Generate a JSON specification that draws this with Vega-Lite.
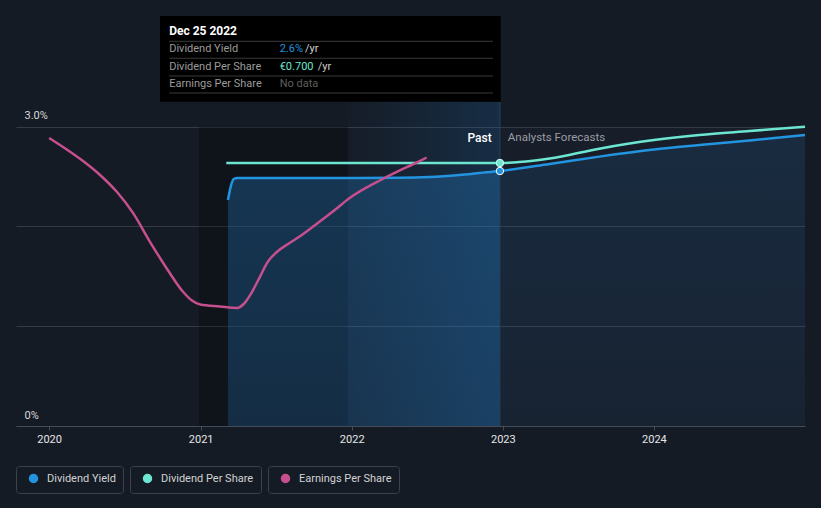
{
  "$schema": "https://vega.github.io/schema/vega-lite/v6.json",
  "width": 789,
  "height": 426,
  "autosize": {"type": "none"},
  "padding": {"left": 16, "top": 0, "right": 16, "bottom": 82},
  "background": "#151b25",
  "config": {
    "view": {"stroke": null},
    "font": "Roboto",
    "text": {"font": "Roboto"}
  },
  "resolve": {"scale": {"color": "independent"}},
  "layer": [
    {
      "data": {"values": [{"date": "2020-12-28", "end": "2021-12-23"}]},
      "mark": {"type": "rect", "fill": "#000000", "opacity": 0.28},
      "encoding": {
        "x": {
          "field": "date", "type": "temporal",
          "scale": {"domain": [{"year": 2019, "month": 10, "date": 13}, {"year": 2024, "month": 12, "date": 31}]},
          "axis": {
            "title": null, "grid": false, "format": "%Y",
            "values": [{"year": 2020}, {"year": 2021}, {"year": 2022}, {"year": 2023}, {"year": 2024}],
            "domainColor": "#464c57", "tickColor": "#464c57", "tickSize": 4,
            "labelColor": "#e6e6e6", "labelFont": "Roboto", "labelFontSize": 11, "labelPadding": 3,
            "labelFlush": false
          }
        },
        "x2": {"field": "end"},
        "y": {
          "datum": 0, "type": "quantitative",
          "scale": {"domain": [0, 4.27], "nice": false, "zero": true},
          "axis": {
            "title": null, "grid": true, "gridColor": "#353b46", "domain": false, "ticks": false, "tickSize": 0,
            "values": [0, 1, 2, 3],
            "labelExpr": "datum.value == 3 ? '3.0%' : (datum.value == 0 ? '0%' : '')",
            "labelAlign": "left", "labelBaseline": "bottom", "labelPadding": -8, "labelOffset": -6,
            "labelColor": "#d8d8d8", "labelFont": "Roboto", "labelFontSize": 11, "labelOverlap": false
          }
        },
        "y2": {"datum": 3}
      }
    },
    {
      "data": {"values": [{"date": "2022-12-25", "end": "2024-12-31"}]},
      "mark": {"type": "rect", "fill": "#283750", "opacity": 0.12},
      "encoding": {
        "x": {"field": "date", "type": "temporal"},
        "x2": {"field": "end"},
        "y": {"datum": 0, "type": "quantitative"},
        "y2": {"datum": 3}
      }
    },
    {
      "data": {"values": [{"date": "2021-12-23", "end": "2022-12-25"}]},
      "mark": {
        "type": "rect",
        "fill": {"gradient": "linear", "x1": 0, "y1": 0, "x2": 1, "y2": 0,
          "stops": [{"offset": 0, "color": "rgba(30,110,180,0.02)"}, {"offset": 1, "color": "rgba(30,110,180,0.22)"}]}
      },
      "encoding": {
        "x": {"field": "date", "type": "temporal"},
        "x2": {"field": "end"},
        "y": {"datum": 0, "type": "quantitative"},
        "y2": {"datum": 3.25}
      }
    },
    {
      "data": {"name": "yield", "values": [
        {"date": "2021-03-08", "value": 2.265, "part": "past"},
        {"date": "2021-03-15", "value": 2.405, "part": "past"},
        {"date": "2021-03-22", "value": 2.476, "part": "past"},
        {"date": "2021-03-30", "value": 2.486, "part": "past"},
        {"date": "2021-08-28", "value": 2.486, "part": "past"},
        {"date": "2022-04-27", "value": 2.488, "part": "past"},
        {"date": "2022-07-08", "value": 2.495, "part": "past"},
        {"date": "2022-09-18", "value": 2.516, "part": "past"},
        {"date": "2022-11-06", "value": 2.536, "part": "past"},
        {"date": "2022-12-25", "value": 2.556, "part": "both"},
        {"date": "2023-04-24", "value": 2.626, "part": "forecast"},
        {"date": "2023-08-22", "value": 2.7, "part": "forecast"},
        {"date": "2024-01-01", "value": 2.771, "part": "forecast"},
        {"date": "2024-04-20", "value": 2.816, "part": "forecast"},
        {"date": "2024-08-19", "value": 2.862, "part": "forecast"},
        {"date": "2024-12-31", "value": 2.917, "part": "forecast"}
      ]},
      "transform": [{"filter": "datum.part != 'forecast'"}],
      "mark": {
        "type": "area", "interpolate": "monotone",
        "fill": {"gradient": "linear", "x1": 0, "y1": 0, "x2": 0, "y2": 1,
          "stops": [{"offset": 0, "color": "rgba(35,120,190,0.34)"}, {"offset": 1, "color": "rgba(35,120,190,0.26)"}]}
      },
      "encoding": {
        "x": {"field": "date", "type": "temporal"},
        "y": {"field": "value", "type": "quantitative"}
      }
    },
    {
      "data": {"name": "yield"},
      "transform": [{"filter": "datum.part != 'past'"}],
      "mark": {
        "type": "area", "interpolate": "monotone",
        "fill": {"gradient": "linear", "x1": 0, "y1": 0, "x2": 0, "y2": 1,
          "stops": [{"offset": 0, "color": "rgba(35,120,190,0.15)"}, {"offset": 1, "color": "rgba(35,120,190,0.05)"}]}
      },
      "encoding": {
        "x": {"field": "date", "type": "temporal"},
        "y": {"field": "value", "type": "quantitative"}
      }
    },
    {
      "data": {"values": [{}]},
      "mark": {"type": "rule", "color": "#28405a", "strokeWidth": 1},
      "encoding": {
        "x": {"datum": {"year": 2022, "month": 12, "date": 25}, "type": "temporal"},
        "y": {"datum": 0, "type": "quantitative"},
        "y2": {"datum": 3.25}
      }
    },
    {
      "data": {"name": "yield"},
      "transform": [{"calculate": "'Dividend Yield'", "as": "series"}],
      "mark": {"type": "line", "interpolate": "monotone", "strokeWidth": 2.5},
      "encoding": {
        "x": {"field": "date", "type": "temporal"},
        "y": {"field": "value", "type": "quantitative"},
        "color": {
          "field": "series", "type": "nominal",
          "scale": {"domain": ["Dividend Yield"], "range": ["#2394df"]},
          "legend": {
            "orient": "none", "legendX": 0, "legendY": 466, "direction": "horizontal", "title": null,
            "symbolType": "circle", "symbolSize": 64, "symbolOffset": 5, "labelOffset": 8,
            "labelColor": "#d2d2d2", "labelFont": "Roboto", "labelFontSize": 11,
            "padding": 7, "strokeColor": "#3c414b", "cornerRadius": 3,
            "encode": {"symbols": {"update": {"fill": {"value": "#2394df"}, "stroke": {"value": "transparent"}}}}
          }
        }
      }
    },
    {
      "data": {"values": [
        {"series": "Dividend Per Share", "date": "2021-03-04", "value": 2.636},
        {"series": "Dividend Per Share", "date": "2022-01-01", "value": 2.636},
        {"series": "Dividend Per Share", "date": "2022-12-25", "value": 2.636},
        {"series": "Dividend Per Share", "date": "2023-02-10", "value": 2.645},
        {"series": "Dividend Per Share", "date": "2023-04-24", "value": 2.681},
        {"series": "Dividend Per Share", "date": "2023-08-22", "value": 2.78},
        {"series": "Dividend Per Share", "date": "2024-01-01", "value": 2.866},
        {"series": "Dividend Per Share", "date": "2024-04-20", "value": 2.917},
        {"series": "Dividend Per Share", "date": "2024-08-19", "value": 2.957},
        {"series": "Dividend Per Share", "date": "2024-12-31", "value": 3.0}
      ]},
      "mark": {"type": "line", "interpolate": "monotone", "strokeWidth": 2.5},
      "encoding": {
        "x": {"field": "date", "type": "temporal"},
        "y": {"field": "value", "type": "quantitative"},
        "color": {
          "field": "series", "type": "nominal",
          "scale": {"domain": ["Dividend Per Share"], "range": ["#6de6d1"]},
          "legend": {
            "orient": "none", "legendX": 114, "legendY": 466, "direction": "horizontal", "title": null,
            "symbolType": "circle", "symbolSize": 64, "symbolOffset": 5, "labelOffset": 8,
            "labelColor": "#d2d2d2", "labelFont": "Roboto", "labelFontSize": 11,
            "padding": 7, "strokeColor": "#3c414b", "cornerRadius": 3,
            "encode": {"symbols": {"update": {"fill": {"value": "#6de6d1"}, "stroke": {"value": "transparent"}}}}
          }
        }
      }
    },
    {
      "data": {"values": [
        {"series": "Earnings Per Share", "date": "2020-01-01", "value": 2.887},
        {"series": "Earnings Per Share", "date": "2020-02-11", "value": 2.776},
        {"series": "Earnings Per Share", "date": "2020-03-23", "value": 2.656},
        {"series": "Earnings Per Share", "date": "2020-05-03", "value": 2.516},
        {"series": "Earnings Per Share", "date": "2020-06-13", "value": 2.345},
        {"series": "Earnings Per Share", "date": "2020-07-22", "value": 2.134},
        {"series": "Earnings Per Share", "date": "2020-09-01", "value": 1.844},
        {"series": "Earnings Per Share", "date": "2020-10-12", "value": 1.574},
        {"series": "Earnings Per Share", "date": "2020-11-20", "value": 1.343},
        {"series": "Earnings Per Share", "date": "2020-12-11", "value": 1.258},
        {"series": "Earnings Per Share", "date": "2020-12-31", "value": 1.218},
        {"series": "Earnings Per Share", "date": "2021-02-17", "value": 1.198},
        {"series": "Earnings Per Share", "date": "2021-03-30", "value": 1.183},
        {"series": "Earnings Per Share", "date": "2021-04-15", "value": 1.223},
        {"series": "Earnings Per Share", "date": "2021-05-05", "value": 1.343},
        {"series": "Earnings Per Share", "date": "2021-05-24", "value": 1.493},
        {"series": "Earnings Per Share", "date": "2021-06-12", "value": 1.644},
        {"series": "Earnings Per Share", "date": "2021-07-04", "value": 1.744},
        {"series": "Earnings Per Share", "date": "2021-08-04", "value": 1.834},
        {"series": "Earnings Per Share", "date": "2021-08-28", "value": 1.899},
        {"series": "Earnings Per Share", "date": "2021-10-08", "value": 2.025},
        {"series": "Earnings Per Share", "date": "2021-11-21", "value": 2.165},
        {"series": "Earnings Per Share", "date": "2021-12-27", "value": 2.285},
        {"series": "Earnings Per Share", "date": "2022-03-17", "value": 2.476},
        {"series": "Earnings Per Share", "date": "2022-06-14", "value": 2.656},
        {"series": "Earnings Per Share", "date": "2022-07-01", "value": 2.691}
      ]},
      "mark": {"type": "line", "interpolate": "monotone", "strokeWidth": 2.5},
      "encoding": {
        "x": {"field": "date", "type": "temporal"},
        "y": {"field": "value", "type": "quantitative"},
        "color": {
          "field": "series", "type": "nominal",
          "scale": {"domain": ["Earnings Per Share"], "range": ["#c64f8d"]},
          "legend": {
            "orient": "none", "legendX": 252, "legendY": 466, "direction": "horizontal", "title": null,
            "symbolType": "circle", "symbolSize": 64, "symbolOffset": 5, "labelOffset": 8,
            "labelColor": "#d2d2d2", "labelFont": "Roboto", "labelFontSize": 11,
            "padding": 7, "strokeColor": "#3c414b", "cornerRadius": 3,
            "encode": {"symbols": {"update": {"fill": {"value": "#c64f8d"}, "stroke": {"value": "transparent"}}}}
          }
        }
      }
    },
    {
      "data": {"values": [{"date": "2022-12-25", "value": 2.636}]},
      "mark": {"type": "point", "filled": true, "fill": "#6de6d1", "stroke": "#d8fff8", "strokeWidth": 1, "size": 55, "opacity": 1},
      "encoding": {
        "x": {"field": "date", "type": "temporal"},
        "y": {"field": "value", "type": "quantitative"}
      }
    },
    {
      "data": {"values": [{"date": "2022-12-25", "value": 2.556}]},
      "mark": {"type": "point", "filled": true, "fill": "#2394df", "stroke": "#ffffff", "strokeWidth": 1, "size": 55, "opacity": 1},
      "encoding": {
        "x": {"field": "date", "type": "temporal"},
        "y": {"field": "value", "type": "quantitative"}
      }
    },
    {
      "data": {"values": [{"label": "Past"}]},
      "mark": {"type": "text", "align": "right", "baseline": "middle", "color": "#ffffff", "fontSize": 12, "fontWeight": 500},
      "encoding": {
        "x": {"datum": {"year": 2022, "month": 12, "date": 5}, "type": "temporal"},
        "y": {"datum": 2.887, "type": "quantitative"},
        "text": {"field": "label"}
      }
    },
    {
      "data": {"values": [{"label": "Analysts Forecasts"}]},
      "mark": {"type": "text", "align": "left", "baseline": "middle", "color": "#9a9da3", "fontSize": 11.5},
      "encoding": {
        "x": {"datum": {"year": 2023, "month": 1, "date": 13}, "type": "temporal"},
        "y": {"datum": 2.887, "type": "quantitative"},
        "text": {"field": "label"}
      }
    },
    {
      "data": {"values": [{}]},
      "mark": {"type": "rect", "fill": "#000000"},
      "encoding": {
        "x": {"datum": {"year": 2020, "month": 9, "date": 25}, "type": "temporal"},
        "x2": {"datum": {"year": 2022, "month": 12, "date": 27}},
        "y": {"datum": 3.25, "type": "quantitative"},
        "y2": {"datum": 4.109}
      }
    },
    {
      "data": {"values": [{"value": 3.856}, {"value": 3.686}, {"value": 3.508}, {"value": 3.338}]},
      "mark": {"type": "rule", "color": "#3a3a3a", "strokeWidth": 1},
      "encoding": {
        "x": {"datum": {"year": 2020, "month": 10, "date": 17}, "type": "temporal"},
        "x2": {"datum": {"year": 2022, "month": 12, "date": 8}},
        "y": {"field": "value", "type": "quantitative"}
      }
    },
    {
      "data": {"values": [{"label": "Dec 25 2022"}]},
      "mark": {"type": "text", "align": "left", "baseline": "middle", "color": "#ffffff", "fontSize": 12, "fontWeight": "bold"},
      "encoding": {
        "x": {"datum": {"year": 2020, "month": 10, "date": 17}, "type": "temporal"},
        "y": {"datum": 3.959, "type": "quantitative"},
        "text": {"field": "label"}
      }
    },
    {
      "data": {"values": [
        {"label": "Dividend Yield", "value": 3.776},
        {"label": "Dividend Per Share", "value": 3.601},
        {"label": "Earnings Per Share", "value": 3.428}
      ]},
      "mark": {"type": "text", "align": "left", "baseline": "middle", "color": "#9b9b9b", "fontSize": 11},
      "encoding": {
        "x": {"datum": {"year": 2020, "month": 10, "date": 17}, "type": "temporal"},
        "y": {"field": "value", "type": "quantitative"},
        "text": {"field": "label"}
      }
    },
    {
      "data": {"values": [{"label": "2.6%"}]},
      "mark": {"type": "text", "align": "left", "baseline": "middle", "color": "#2394df", "fontSize": 11},
      "encoding": {
        "x": {"datum": {"year": 2021, "month": 7, "date": 11}, "type": "temporal"},
        "y": {"datum": 3.776, "type": "quantitative"},
        "text": {"field": "label"}
      }
    },
    {
      "data": {"values": [{"label": "€0.700"}]},
      "mark": {"type": "text", "align": "left", "baseline": "middle", "color": "#6de6d1", "fontSize": 11},
      "encoding": {
        "x": {"datum": {"year": 2021, "month": 7, "date": 11}, "type": "temporal"},
        "y": {"datum": 3.601, "type": "quantitative"},
        "text": {"field": "label"}
      }
    },
    {
      "data": {"values": [{"label": "No data"}]},
      "mark": {"type": "text", "align": "left", "baseline": "middle", "color": "#5f5f5f", "fontSize": 11},
      "encoding": {
        "x": {"datum": {"year": 2021, "month": 7, "date": 11}, "type": "temporal"},
        "y": {"datum": 3.428, "type": "quantitative"},
        "text": {"field": "label"}
      }
    },
    {
      "data": {"values": [
        {"label": "/yr", "date": "2021-09-10", "value": 3.776},
        {"label": "/yr", "date": "2021-10-11", "value": 3.601}
      ]},
      "mark": {"type": "text", "align": "left", "baseline": "middle", "color": "#cfcfcf", "fontSize": 11},
      "encoding": {
        "x": {"field": "date", "type": "temporal"},
        "y": {"field": "value", "type": "quantitative"},
        "text": {"field": "label"}
      }
    }
  ]
}
